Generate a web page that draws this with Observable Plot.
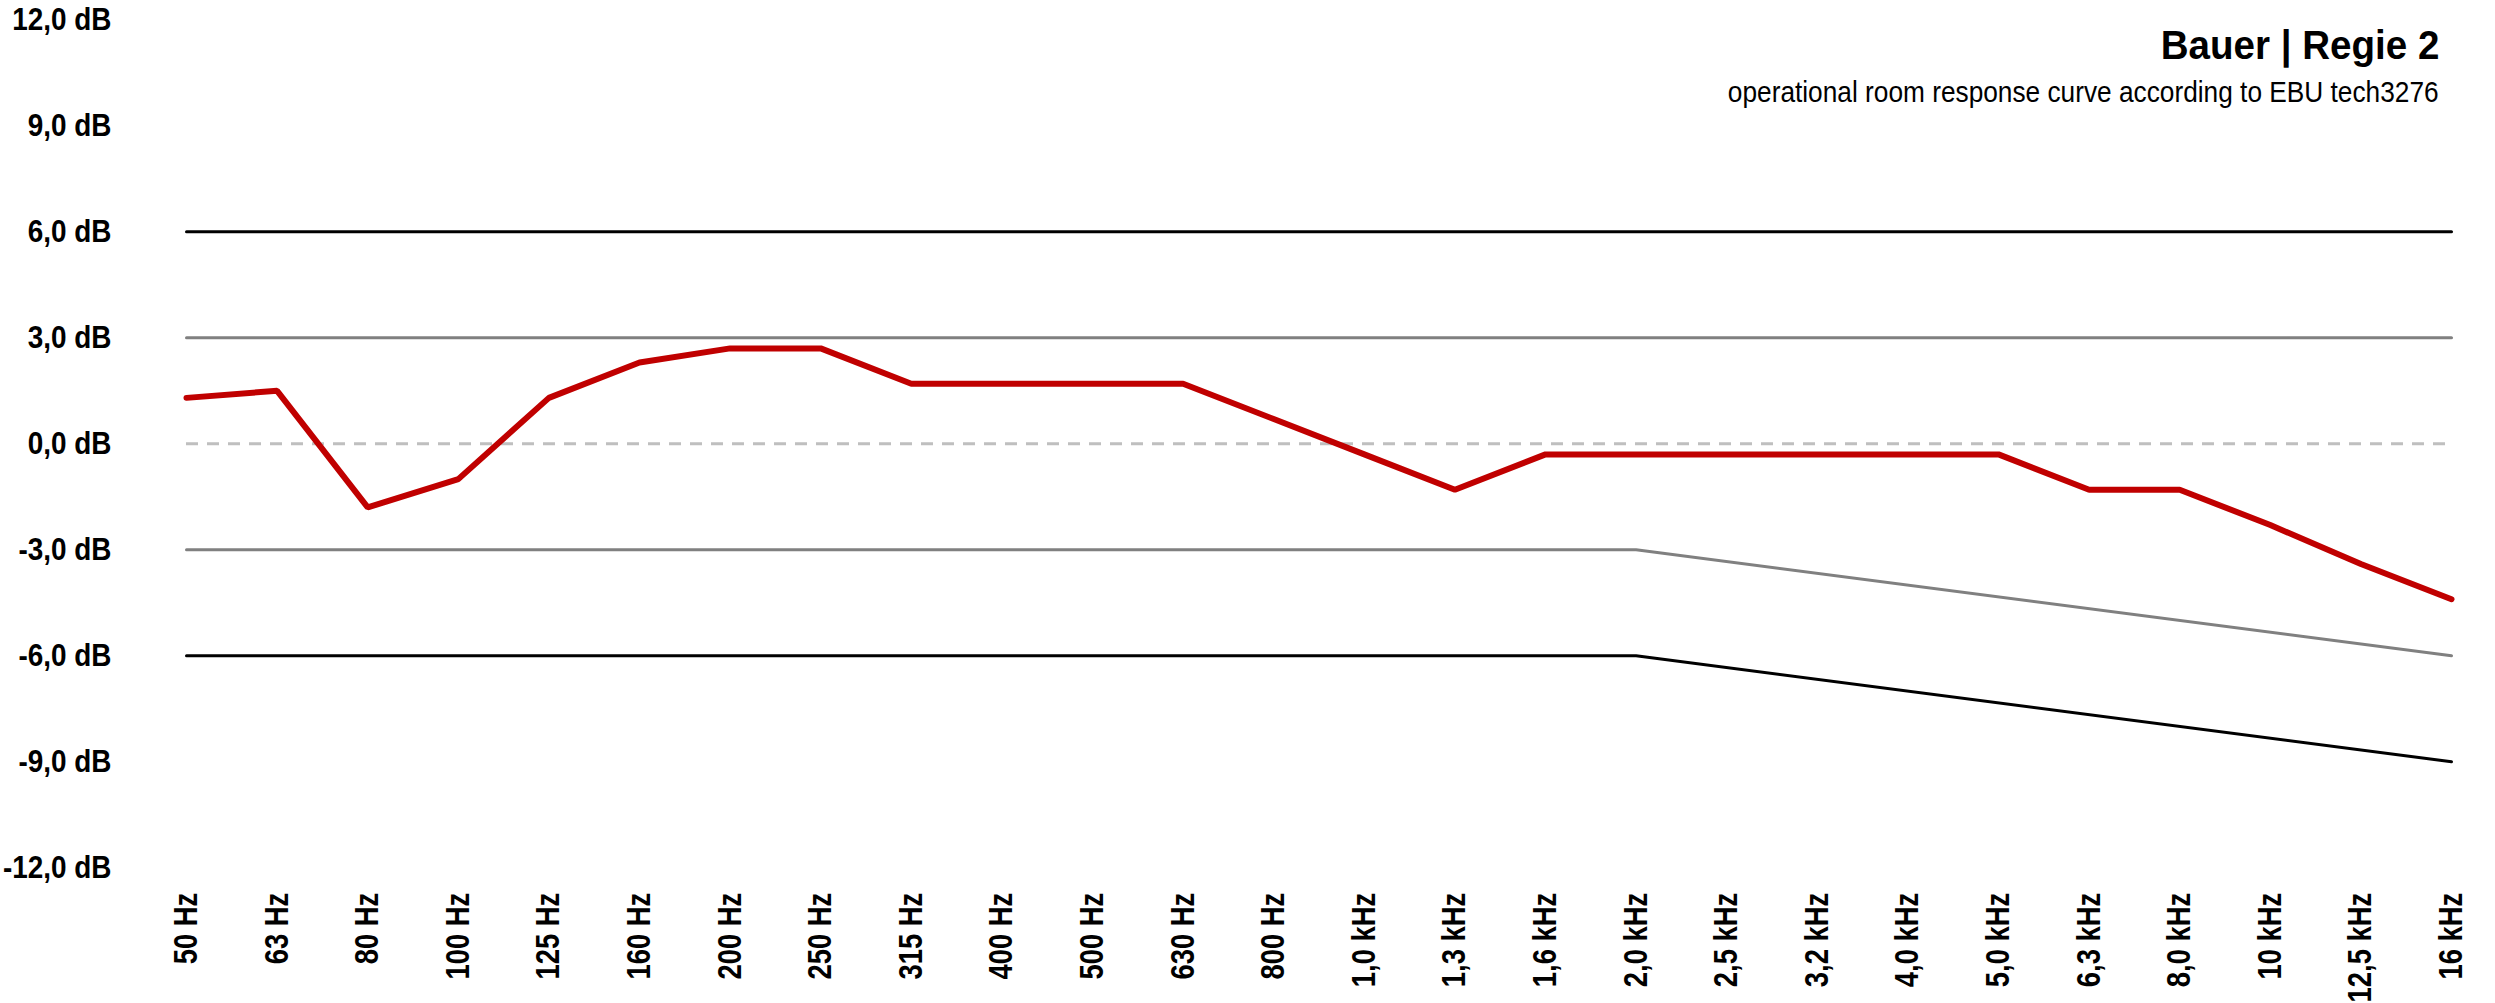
<!DOCTYPE html>
<html><head><meta charset="utf-8">
<script src="https://cdn.jsdelivr.net/npm/d3@7"></script>
<script src="https://cdn.jsdelivr.net/npm/@observablehq/plot@0.6"></script>
<style>
body{margin:0;background:#fff;color:#000;overflow:hidden;}
#wrap{position:relative;width:2495px;height:1003px;}
#title{position:absolute;right:56px;top:25px;font-family:"Liberation Sans",sans-serif;font-weight:bold;font-size:41px;line-height:1;white-space:nowrap;transform:scaleX(0.94);transform-origin:right center;}
#subtitle{position:absolute;right:56px;top:77px;font-family:"Liberation Sans",sans-serif;font-size:29.5px;line-height:1;white-space:nowrap;transform:scaleX(0.89);transform-origin:right center;}
#chart{position:absolute;left:0;top:0;}
</style></head><body>
<div id="wrap">
<div id="chart"></div>
<div id="title">Bauer | Regie 2</div>
<div id="subtitle">operational room response curve according to EBU tech3276</div>
</div>
<script>
const freqs = ["50 Hz","63 Hz","80 Hz","100 Hz","125 Hz","160 Hz","200 Hz","250 Hz","315 Hz","400 Hz","500 Hz","630 Hz","800 Hz","1,0 kHz","1,3 kHz","1,6 kHz","2,0 kHz","2,5 kHz","3,2 kHz","4,0 kHz","5,0 kHz","6,3 kHz","8,0 kHz","10 kHz","12,5 kHz","16 kHz"];
const response = [1.3,1.5,-1.8,-1.0,1.3,2.3,2.7,2.7,1.7,1.7,1.7,1.7,0.7,-0.3,-1.3,-0.3,-0.3,-0.3,-0.3,-0.3,-0.3,-1.3,-1.3,-2.3,-3.4,-4.4];
const upperFreqs = ["50 Hz","16 kHz"];
const upperOuter = [6,6];
const upperInner = [3,3];
const lowerFreqs = ["50 Hz","2,0 kHz","16 kHz"];
const lowerInner = [-3,-3,-6];
const lowerOuter = [-6,-6,-9];
const yTicks = [-12,-9,-6,-3,0,3,6,9,12];

const zip = (xs, ys) => xs.map((f,i)=>({f, v: ys[i]}));

const chart = Plot.plot({
  width: 2495, height: 1003,
  marginLeft: 186, marginRight: 44, marginTop: 19.3, marginBottom: 135.7,
  x: {type: "point", domain: freqs, padding: 0, round: false, label: null},
  y: {domain: [-12, 12], label: null},
  style: {fontFamily: "'Liberation Sans',sans-serif", color: "#000", background: "#fff"},
  marks: [
    Plot.ruleY([0], {stroke: "#bfbfbf", strokeWidth: 3, strokeDasharray: "12,9"}),
    Plot.line(zip(upperFreqs, upperOuter), {x: "f", y: "v", stroke: "#000", strokeWidth: 3}),
    Plot.line(zip(upperFreqs, upperInner), {x: "f", y: "v", stroke: "#808080", strokeWidth: 3}),
    Plot.line(zip(lowerFreqs, lowerInner), {x: "f", y: "v", stroke: "#808080", strokeWidth: 3}),
    Plot.line(zip(lowerFreqs, lowerOuter), {x: "f", y: "v", stroke: "#000", strokeWidth: 3}),
    Plot.line(zip(freqs, response), {x: "f", y: "v", stroke: "#c00000", strokeWidth: 6, strokeLinejoin: "miter"}),
    Plot.axisY({ticks: yTicks, tickFormat: d => d.toFixed(1).replace(".", ",") + " dB", tickSize: 0, tickPadding: 75,
      fontSize: 31, fontWeight: "bold", label: null}),
    Plot.axisX({tickRotate: -90, tickSize: 0, tickPadding: 25, fontSize: 33, fontWeight: "bold", label: null})
  ]
});
document.getElementById("chart").appendChild(chart);
// condense tick label glyphs along the text direction
d3.select(chart).selectAll('g[aria-label="x-axis tick label"] text').each(function(){
  const t = this.getAttribute("transform") || "";
  this.setAttribute("transform", t + " scale(0.83,1)");
});
d3.select(chart).selectAll('g[aria-label="y-axis tick label"] text').each(function(){
  const t = this.getAttribute("transform") || "";
  this.setAttribute("transform", t + " scale(0.9,1)");
});
</script>
</body></html>
